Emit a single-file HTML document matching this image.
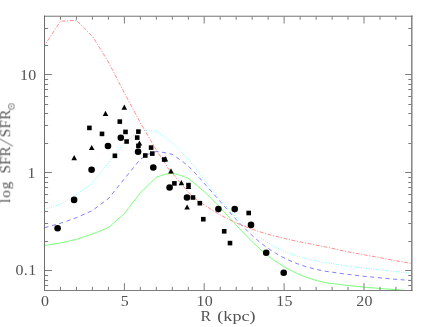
<!DOCTYPE html>
<html><head><meta charset="utf-8"><title>SFR</title>
<style>
html,body{margin:0;padding:0;background:#fff;}
body{width:438px;height:327px;overflow:hidden;font-family:"Liberation Serif",serif;}
svg{display:block;}
text{font-family:"Liberation Serif",serif;fill:#525252;}
</style></head><body>
<svg width="438" height="327" viewBox="0 0 438 327">
<rect width="438" height="327" fill="#fff"/>
<polyline points="44.5,245.5 60.4,243.0 76.4,239.3 92.4,234.0 108.4,227.6 124.3,213.6 140.3,193.0 156.2,177.3 165.5,174.2 172.2,173.2 178.3,174.7 188.1,178.2 193.9,182.9 194.0,183.0 200.0,187.9 206.0,193.3 212.0,199.2 218.0,205.3 224.0,211.8 230.0,218.3 236.0,224.9 242.0,231.3 248.0,237.6 254.0,243.6 260.0,249.1 266.0,254.2 272.0,258.8 278.0,262.9 284.0,266.7 290.0,270.0 296.0,273.0 302.0,275.6 308.0,277.8 314.0,279.8 320.0,281.4 326.0,282.8 348.0,285.5 364.0,287.2 380.0,288.5 395.0,289.6 404.5,290.3" fill="none" stroke="#10ff10" stroke-width="0.55"/>
<polyline points="44.5,227.7 60.4,223.3 76.4,217.7 92.4,210.5 108.4,198.6 124.3,178.9 140.3,159.3 148.0,154.3 156.3,151.5 164.0,152.5 172.2,154.3 182.5,161.4 188.7,166.5 194.0,171.9 200.0,178.5 206.0,185.3 212.0,192.1 218.0,199.0 224.0,205.9 230.0,212.7 236.0,219.3 242.0,225.6 248.0,231.6 254.0,237.2 260.0,242.3 266.0,246.9 272.0,251.0 278.0,254.6 284.0,257.9 290.0,260.7 296.0,263.2 302.0,265.4 308.0,267.2 314.0,268.8 320.0,270.2 326.0,271.3 348.0,274.4 364.0,276.3 378.0,277.6 391.8,279.0 411.3,280.5" fill="none" stroke="#1515ff" stroke-width="0.55" stroke-dasharray="4.1 3.55" stroke-dashoffset="0"/>
<polyline points="44.5,209.6 60.4,204.0 76.4,194.8 92.4,182.8 108.4,163.1 124.3,142.7 140.3,130.6 156.4,131.2 172.4,142.6 188.4,159.5 194.0,166.0 200.0,174.0 206.0,181.8 212.0,189.4 218.0,196.7 224.0,203.7 230.0,210.4 236.0,216.7 242.0,222.6 248.0,228.0 254.0,233.0 260.0,237.6 266.0,241.6 272.0,245.3 278.0,248.5 284.0,251.2 290.0,253.7 296.0,255.8 302.0,257.6 308.0,259.1 314.0,260.5 320.0,261.6 326.0,262.6 348.0,266.2 364.0,268.0 378.0,269.7 391.8,271.3 411.3,273.3" fill="none" stroke="#38f8f8" stroke-width="0.78" stroke-linecap="round" stroke-dasharray="0.01 2.5"/>
<polyline points="44.5,45.4 60.5,21.2 76.4,20.3 92.4,36.2 108.4,62.0 124.3,92.8 140.3,122.8 156.2,149.8 168.2,168.3 172.2,173.1 188.1,192.0 194.0,197.5 200.0,202.0 206.0,206.1 212.0,210.0 218.0,213.6 224.0,216.9 230.0,219.9 236.0,222.7 242.0,225.3 248.0,227.6 254.0,229.8 260.0,231.8 266.0,233.6 272.0,235.4 278.0,236.9 284.0,238.4 290.0,239.8 296.0,241.1 302.0,242.3 308.0,243.5 314.0,244.7 320.0,245.9 326.0,247.0 348.0,251.9 364.0,254.8 378.0,257.3 391.8,260.0 411.3,263.4" fill="none" stroke="#ff3232" stroke-width="0.55" stroke-dasharray="3.9 1.5 1.3 1.5" stroke-dashoffset="2.75"/>
<g stroke-width="1" fill="none">
<path d="M44.5 15.620000000000001V291.0" stroke="#6e6e6e"/>
<path d="M44.0 16.22H412.4" stroke="#4e4e4e" stroke-width="0.8"/>
<path d="M44.0 290.5H412.4" stroke="#7c7c7c"/>
<path d="M411.85 15.620000000000001V291.0" stroke="#585858" stroke-width="1.1"/>
<path d="M60.5 290.0v-3.1M60.5 16.52v3.2M76.5 290.0v-3.1M76.5 16.52v3.2M92.4 290.0v-3.1M92.4 16.52v3.2M108.4 290.0v-3.1M108.4 16.52v3.2M124.4 290.0v-6.9M124.4 16.52v7.0M140.3 290.0v-3.1M140.3 16.52v3.2M156.3 290.0v-3.1M156.3 16.52v3.2M172.3 290.0v-3.1M172.3 16.52v3.2M188.3 290.0v-3.1M188.3 16.52v3.2M204.2 290.0v-6.9M204.2 16.52v7.0M220.2 290.0v-3.1M220.2 16.52v3.2M236.2 290.0v-3.1M236.2 16.52v3.2M252.2 290.0v-3.1M252.2 16.52v3.2M268.1 290.0v-3.1M268.1 16.52v3.2M284.1 290.0v-6.9M284.1 16.52v7.0M300.1 290.0v-3.1M300.1 16.52v3.2M316.1 290.0v-3.1M316.1 16.52v3.2M332.1 290.0v-3.1M332.1 16.52v3.2M348.0 290.0v-3.1M348.0 16.52v3.2M364.0 290.0v-6.9M364.0 16.52v7.0M380.0 290.0v-3.1M380.0 16.52v3.2M395.9 290.0v-3.1M395.9 16.52v3.2M45.0 285.5h3.1M411.4 285.5h-3.1M45.0 280.5h3.1M411.4 280.5h-3.1M45.0 275.5h3.1M411.4 275.5h-3.1M45.0 270.5h6.9M411.4 270.5h-6.300000000000001M45.0 241.5h3.1M411.4 241.5h-3.1M45.0 223.5h3.1M411.4 223.5h-3.1M45.0 211.5h3.1M411.4 211.5h-3.1M45.0 202.5h3.1M411.4 202.5h-3.1M45.0 194.5h3.1M411.4 194.5h-3.1M45.0 187.5h3.1M411.4 187.5h-3.1M45.0 182.5h3.1M411.4 182.5h-3.1M45.0 177.5h3.1M411.4 177.5h-3.1M45.0 172.5h6.9M411.4 172.5h-6.300000000000001M45.0 143.5h3.1M411.4 143.5h-3.1M45.0 125.5h3.1M411.4 125.5h-3.1M45.0 113.5h3.1M411.4 113.5h-3.1M45.0 104.5h3.1M411.4 104.5h-3.1M45.0 96.5h3.1M411.4 96.5h-3.1M45.0 89.5h3.1M411.4 89.5h-3.1M45.0 84.5h3.1M411.4 84.5h-3.1M45.0 79.5h3.1M411.4 79.5h-3.1M45.0 74.5h6.9M411.4 74.5h-6.300000000000001M45.0 45.5h3.1M411.4 45.5h-3.1M45.0 28.5h3.1M411.4 28.5h-3.1" stroke="#7c7c7c"/>
</g>
<g fill="#000">
<circle cx="57.6" cy="228.2" r="3.3"/>
<circle cx="74.1" cy="199.9" r="3.3"/>
<circle cx="91.6" cy="169.8" r="3.3"/>
<circle cx="108" cy="146" r="3.3"/>
<circle cx="120.8" cy="137.8" r="3.3"/>
<circle cx="138.1" cy="151.7" r="3.3"/>
<circle cx="153.3" cy="167.5" r="3.3"/>
<circle cx="169.6" cy="187.5" r="3.3"/>
<circle cx="187" cy="197.5" r="3.3"/>
<circle cx="218.4" cy="209.1" r="3.3"/>
<circle cx="234.7" cy="209.1" r="3.3"/>
<circle cx="251" cy="224.9" r="3.3"/>
<circle cx="266.2" cy="252.8" r="3.3"/>
<circle cx="283.7" cy="272.8" r="3.3"/>
<rect x="87.1" y="125.6" width="4.6" height="4.6"/>
<rect x="99.7" y="131.6" width="4.6" height="4.6"/>
<rect x="117.5" y="119.3" width="4.6" height="4.6"/>
<rect x="123.2" y="129.6" width="4.6" height="4.6"/>
<rect x="136.1" y="129.3" width="4.6" height="4.6"/>
<rect x="124.3" y="139.2" width="4.6" height="4.6"/>
<rect x="134.9" y="135.3" width="4.6" height="4.6"/>
<rect x="136.1" y="143.6" width="4.6" height="4.6"/>
<rect x="148.8" y="145.3" width="4.6" height="4.6"/>
<rect x="112.6" y="153.5" width="4.6" height="4.6"/>
<rect x="143.0" y="153.2" width="4.6" height="4.6"/>
<rect x="150.0" y="151.3" width="4.6" height="4.6"/>
<rect x="161.9" y="157.2" width="4.6" height="4.6"/>
<rect x="172.1" y="181.1" width="4.6" height="4.6"/>
<rect x="186.2" y="182.8" width="4.6" height="4.6"/>
<rect x="190.7" y="195.2" width="4.6" height="4.6"/>
<rect x="197.5" y="200.9" width="4.6" height="4.6"/>
<rect x="201.0" y="216.9" width="4.6" height="4.6"/>
<rect x="221.9" y="229.0" width="4.6" height="4.6"/>
<rect x="227.7" y="240.8" width="4.6" height="4.6"/>
<rect x="246.4" y="210.7" width="4.6" height="4.6"/>
<path d="M124.3 104.6L127.1 109.8H121.5Z"/>
<path d="M105.5 110.7L108.3 115.9H102.7Z"/>
<path d="M91.7 144.9L94.5 150.1H88.9Z"/>
<path d="M74.2 155.1L77.0 160.3H71.4Z"/>
<path d="M139.4 140.4L142.2 145.6H136.6Z"/>
<path d="M165.4 156.3L168.2 161.5H162.6Z"/>
<path d="M171.0 168.2L173.8 173.4H168.2Z"/>
<path d="M181.4 180.1L184.2 185.3H178.6Z"/>
<path d="M187.1 204.4L189.9 209.6H184.3Z"/>
<path d="M188.5 183.8L191.3 189.0H185.7Z"/>
</g>
<g font-size="14.5" letter-spacing="1" style="filter:grayscale(1)">
<text transform="translate(45.2,306.1) scale(1.1,1)" letter-spacing="0.3" text-anchor="middle">0</text>
<text transform="translate(125.0,306.1) scale(1.1,1)" letter-spacing="0.3" text-anchor="middle">5</text>
<text transform="translate(204.8,306.1) scale(1.1,1)" letter-spacing="0.3" text-anchor="middle">10</text>
<text transform="translate(284.6,306.1) scale(1.1,1)" letter-spacing="0.3" text-anchor="middle">15</text>
<text transform="translate(364.5,306.1) scale(1.1,1)" letter-spacing="0.3" text-anchor="middle">20</text>
<text transform="translate(36.5,80.0) scale(1.1,1)" letter-spacing="0.3" text-anchor="end">10</text>
<text transform="translate(35.7,177.8) scale(1.1,1)" letter-spacing="0.3" text-anchor="end">1</text>
<text transform="translate(36.5,275.1) scale(1.1,1)" letter-spacing="0.3" text-anchor="end">0.1</text>
<text transform="translate(200.6,321) scale(1.1,1)" letter-spacing="0">R</text>
<text transform="translate(217.3,321) scale(1.25,1)" letter-spacing="0">(kpc)</text>
</g>
<g transform="translate(10.2,203.5) rotate(-90)" font-size="15.2" style="filter:grayscale(1)">
<text x="0.5" y="0" letter-spacing="1">log</text>
<text x="30.0" y="0" letter-spacing="0">SFR</text>
<path d="M57.4 2.7L64.9 -10.9" stroke="#444" stroke-width="0.8" fill="none"/>
<text x="66.2" y="0" letter-spacing="0.35">SFR</text>
<circle cx="97.1" cy="1.3" r="2.95" fill="none" stroke="#444" stroke-width="0.7"/><circle cx="97.1" cy="1.3" r="0.7" fill="#444"/>
</g>
</svg></body></html>
